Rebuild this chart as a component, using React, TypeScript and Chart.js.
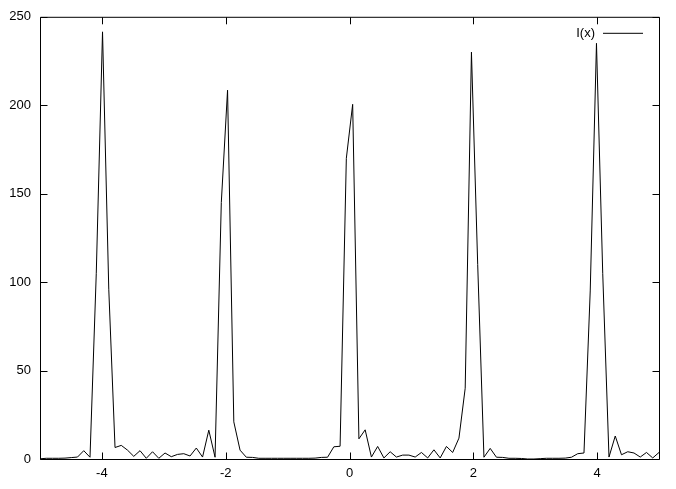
import { useEffect, useRef } from 'react';
import { Chart, registerables } from 'chart.js';

Chart.register(...registerables);

// sample positions (x)
const xSamples = [
  -5.0, -4.899, -4.798, -4.697, -4.596, -4.495, -4.394, -4.293, -4.192, -4.091,
  -3.99, -3.889, -3.788, -3.687, -3.586, -3.485, -3.384, -3.283, -3.182, -3.081,
  -2.98, -2.879, -2.778, -2.677, -2.576, -2.475, -2.374, -2.273, -2.172, -2.071,
  -1.97, -1.869, -1.768, -1.667, -1.566, -1.465, -1.364, -1.263, -1.162, -1.061,
  -0.96, -0.859, -0.758, -0.657, -0.556, -0.455, -0.354, -0.253, -0.152, -0.051,
  0.051, 0.152, 0.253, 0.354, 0.455, 0.556, 0.657, 0.758, 0.859, 0.96,
  1.061, 1.162, 1.263, 1.364, 1.465, 1.566, 1.667, 1.768, 1.869, 1.97,
  2.071, 2.172, 2.273, 2.374, 2.475, 2.576, 2.677, 2.778, 2.879, 2.98,
  3.081, 3.182, 3.283, 3.384, 3.485, 3.586, 3.687, 3.788, 3.889, 3.99,
  4.091, 4.192, 4.293, 4.394, 4.495, 4.596, 4.697, 4.798, 4.899, 5.0,
];

// I(x) values
const intensity = [
  0.1, 0.4, 0.4, 0.4, 0.5, 0.8, 1.1, 4.7, 1.0, 105,
  241.5, 96, 6.5, 7.7, 5.0, 1.5, 4.7, 0.4, 4.1, 0.4,
  3.4, 1.3, 2.6, 3.0, 1.7, 6.2, 1.1, 16.3, 1.0, 145,
  208.5, 21, 5, 1.0, 0.9, 0.4, 0.4, 0.4, 0.4, 0.4,
  0.4, 0.4, 0.4, 0.4, 0.5, 0.9, 1.0, 6.9, 7.2, 170,
  200.5, 11.4, 16.5, 1.1, 7.1, 0.6, 4.1, 1.1, 2.2, 2.2,
  1.1, 3.7, 0.6, 5.2, 0.6, 7.1, 3.7, 11.8, 40, 230,
  110, 1.0, 6.0, 1.0, 0.9, 0.4, 0.4, 0.3, 0.0, 0.0,
  0.2, 0.4, 0.4, 0.4, 0.5, 1.0, 3.0, 3.4, 95, 235,
  105, 1.1, 13, 2.4, 4.1, 3.4, 1.1, 3.7, 0.6, 3.7,
];

const xTickValues = [-4, -2, 0, 2, 4];
const yTickValues = [0, 50, 100, 150, 200, 250];
const seriesLabel = 'I(x)';

const FONT = "'Liberation Sans', Arial, sans-serif";
const TICK_LEN = 7;

const framePlugin = {
  id: 'gnuplotFrame',
  afterDatasetsDraw(chart: any) {
    const { ctx, chartArea, scales } = chart;
    const { left, right, top, bottom } = chartArea;
    ctx.save();
    ctx.strokeStyle = '#000';
    ctx.lineWidth = 1;
    ctx.beginPath();
    ctx.rect(left + 0.5, top + 0.5, right - left, bottom - top);
    ctx.stroke();
    ctx.beginPath();
    for (const v of xTickValues) {
      const px = Math.round(scales.x.getPixelForValue(v)) + 0.5;
      ctx.moveTo(px, bottom + 0.5);
      ctx.lineTo(px, bottom + 0.5 - TICK_LEN);
      ctx.moveTo(px, top + 0.5);
      ctx.lineTo(px, top + 0.5 + TICK_LEN);
    }
    for (const v of yTickValues) {
      const py = Math.round(scales.y.getPixelForValue(v)) + 0.5;
      ctx.moveTo(left + 0.5, py);
      ctx.lineTo(left + 0.5 + TICK_LEN, py);
      ctx.moveTo(right + 0.5, py);
      ctx.lineTo(right + 0.5 - TICK_LEN, py);
    }
    ctx.stroke();
    // key
    const ky = top + 16.5;
    ctx.font = `13px ${FONT}`;
    ctx.fillStyle = '#000';
    ctx.textAlign = 'right';
    ctx.textBaseline = 'middle';
    ctx.fillText(chart.data.datasets[0].label, right - 64, ky);
    ctx.beginPath();
    ctx.moveTo(right - 56, ky);
    ctx.lineTo(right - 16, ky);
    ctx.stroke();
    ctx.restore();
  },
};

export default function App() {
  const ref = useRef<HTMLCanvasElement | null>(null);
  useEffect(() => {
    if (!ref.current) return;
    const chart = new Chart(ref.current, {
      type: 'line',
      data: {
        datasets: [
          {
            label: seriesLabel,
            data: xSamples.map((x, i) => ({ x, y: intensity[i] })),
            borderColor: '#000',
            borderWidth: 1,
            pointRadius: 0,
            tension: 0,
            fill: false,
          },
        ],
      },
      options: {
        animation: false,
        responsive: false,
        devicePixelRatio: 1,
        layout: { padding: { left: 0, right: 17, top: 14, bottom: 0 } },
        plugins: { legend: { display: false }, tooltip: { enabled: false } },
        scales: {
          x: {
            type: 'linear',
            min: -5,
            max: 5,
            grid: { display: false, drawTicks: false },
            border: { display: false },
            afterBuildTicks: (s: any) => {
              s.ticks = xTickValues.map((value) => ({ value }));
            },
            afterFit: (s: any) => {
              s.height = 30;
            },
            ticks: {
              color: '#000',
              padding: 7,
              maxRotation: 0,
              autoSkip: false,
              font: { family: FONT, size: 13 },
              callback: (v: any) => String(v),
            },
          },
          y: {
            type: 'linear',
            min: 0,
            max: 250,
            grid: { display: false, drawTicks: false },
            border: { display: false },
            afterBuildTicks: (s: any) => {
              s.ticks = yTickValues.map((value) => ({ value }));
            },
            afterFit: (s: any) => {
              s.width = 40;
            },
            ticks: {
              color: '#000',
              padding: 9,
              autoSkip: false,
              font: { family: FONT, size: 13 },
              callback: (v: any) => String(v),
            },
          },
        },
      },
      plugins: [framePlugin],
    });
    return () => chart.destroy();
  }, []);
  return (
    <div style={{ position: 'absolute', left: 0, top: 0, width: 676, height: 489, background: '#fff' }}>
      <canvas ref={ref} width={676} height={489} style={{ width: 676, height: 489, display: 'block' }} />
    </div>
  );
}
